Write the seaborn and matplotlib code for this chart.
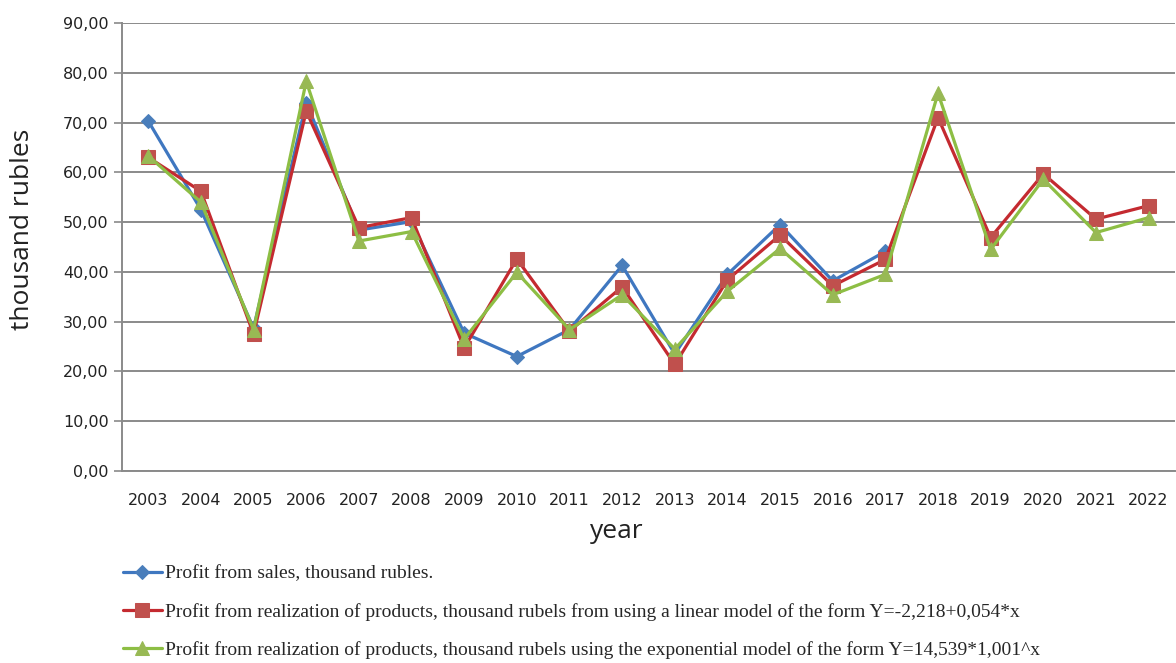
"""Profit from sales vs. linear and exponential model forecasts, 2003-2022."""

import matplotlib

matplotlib.use("Agg")
import matplotlib.pyplot as plt
import numpy as np
import pandas as pd
import seaborn as sns
from matplotlib.ticker import FixedLocator, FuncFormatter

years = [str(y) for y in range(2003, 2023)]

# actual profit (data stops at 2017)
profit_sales = [70.3, 52.5, 28.7, 74.0, 48.4, 50.1, 27.7, 23.0, 28.4, 41.3,
                23.5, 39.5, 49.5, 38.2, 44.1,
                np.nan, np.nan, np.nan, np.nan, np.nan]
profit_linear = [63.0, 56.2, 27.5, 72.3, 48.9, 50.9, 24.7, 42.6, 28.1, 37.0,
                 21.4, 38.4, 47.4, 37.2, 42.5, 71.0, 46.9, 59.7, 50.6, 53.3]
profit_exp = [63.3, 54.0, 28.4, 78.3, 46.2, 48.1, 26.5, 39.9, 28.4, 35.4,
              24.5, 36.1, 44.7, 35.4, 39.5, 75.9, 44.5, 58.6, 47.9, 50.9]

labels = [
    "Profit from sales, thousand rubles.",
    "Profit from realization of products, thousand rubels from using a linear model of the form Y=-2,218+0,054*x",
    "Profit from realization of products, thousand rubels using the exponential model of the form Y=14,539*1,001^x",
]

frame = pd.DataFrame({
    "year": years,
    "sales": profit_sales,
    "linear": profit_linear,
    "exp": profit_exp,
})

sns.set_theme(style="white")
plt.rcParams["font.family"] = ["DejaVu Sans"]

fig = plt.figure(figsize=(11.76, 6.63), dpi=100)
ax = fig.add_axes([0.1037, 0.2896, 0.8954, 0.6757])

series = [
    ("sales", labels[0], "#3F77C0", "D", 7.5),
    ("linear", labels[1], "#C42A30", "s", 9.5),
    ("exp", labels[2], "#8DBE44", "^", 10.5),
]
marker_colors = {"sales": "#4A7EBB", "linear": "#C0504D", "exp": "#98B954"}

for column, label, color, marker, size in series:
    sns.lineplot(
        data=frame.dropna(subset=[column]),
        x="year",
        y=column,
        ax=ax,
        color=color,
        linewidth=2.3,
        marker=marker,
        markersize=size,
        markerfacecolor=marker_colors[column],
        markeredgecolor=marker_colors[column],
        label=label,
        sort=False,
    )

ax.set_xlim(-0.5, len(years) - 0.5)
ax.set_ylim(0, 90)
ax.set_yticks(np.arange(0, 91, 10))
ax.yaxis.set_major_formatter(FuncFormatter(lambda v, _: f"{v:.2f}".replace(".", ",")))
ax.grid(axis="y", color="#8A8A8A", linewidth=1.4)
ax.set_axisbelow(True)

ax.set_xticks(range(len(years)))
ax.set_xticklabels(years)
ax.xaxis.set_minor_locator(FixedLocator(np.arange(-0.5, len(years), 1.0)))
ax.tick_params(axis="x", which="major", length=0, pad=16, labelsize=11.5, colors="#222222")
ax.tick_params(axis="x", which="minor", length=6, width=1.2, color="#8A8A8A")
ax.tick_params(axis="y", which="major", length=6, width=1.2, color="#8A8A8A",
               labelsize=11.5, labelcolor="#222222", left=True)

for side in ("top", "right"):
    ax.spines[side].set_visible(False)
for side in ("left", "bottom"):
    ax.spines[side].set_color("#8A8A8A")
    ax.spines[side].set_linewidth(1.4)

ax.set_xlabel("year", fontsize=19, family="Open Sans", color="#222222")
ax.set_ylabel("thousand rubles", fontsize=19, family="Open Sans", color="#222222")
ax.xaxis.set_label_coords((617 - 122) / 1053, -(532 - 471) / 448, transform=ax.transAxes)
ax.yaxis.set_label_coords(-(122 - 23) / 1053, (471 - 229) / 448, transform=ax.transAxes)
ax.xaxis.label.set_va("center")
ax.yaxis.label.set_va("center")

handles, legend_labels = ax.get_legend_handles_labels()
ax.get_legend().remove()
fig.legend(
    handles,
    legend_labels,
    loc="upper left",
    bbox_to_anchor=(0.098, 0.160),
    frameon=False,
    prop={"family": "Liberation Serif", "size": 14},
    handlelength=2.0,
    handletextpad=0.15,
    labelspacing=1.05,
    borderaxespad=0,
)

fig.savefig("out.png", dpi=100)
plt.close(fig)
